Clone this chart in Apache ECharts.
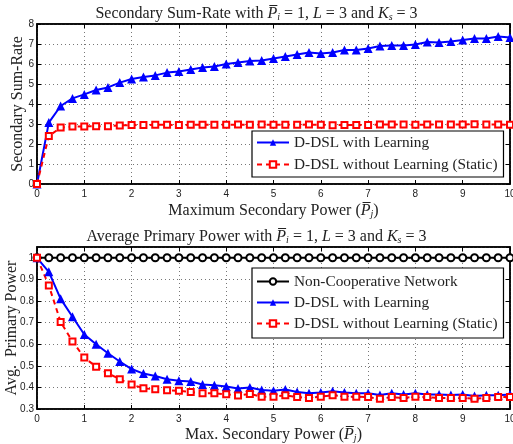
<!DOCTYPE html>
<html>
<head>
<meta charset="utf-8">
<script src="https://cdn.jsdelivr.net/npm/echarts@6/dist/echarts.min.js"></script>
<style>
  html, body { margin: 0; padding: 0; background: #fff; }
  #chart { width: 513px; height: 444px; }
</style>
</head>
<body>
<div id="chart"></div>
<script>
// x values: maximum secondary power
var power = [0, 0.25, 0.5, 0.75, 1, 1.25, 1.5, 1.75, 2, 2.25, 2.5, 2.75, 3, 3.25, 3.5, 3.75,
  4, 4.25, 4.5, 4.75, 5, 5.25, 5.5, 5.75, 6, 6.25, 6.5, 6.75, 7, 7.25, 7.5, 7.75,
  8, 8.25, 8.5, 8.75, 9, 9.25, 9.5, 9.75, 10];

// top chart: secondary sum-rate
var rateLearning = [0, 3.07, 3.9, 4.28, 4.48, 4.7, 4.83, 5.07, 5.25, 5.35, 5.43, 5.57, 5.63, 5.73, 5.82, 5.87,
  6.0, 6.07, 6.15, 6.17, 6.28, 6.37, 6.48, 6.58, 6.53, 6.58, 6.7, 6.7, 6.77, 6.9, 6.93, 6.93,
  6.97, 7.1, 7.08, 7.13, 7.2, 7.27, 7.28, 7.37, 7.32];
var rateStatic = [0, 2.4, 2.82, 2.87, 2.88, 2.89, 2.89, 2.93, 2.95, 2.95, 2.96, 2.96, 2.95, 2.96, 2.96, 2.96,
  2.96, 2.97, 2.96, 2.97, 2.96, 2.96, 2.96, 2.97, 2.96, 2.94, 2.95, 2.95, 2.95, 2.98, 2.97, 2.97,
  2.96, 2.97, 2.97, 2.97, 2.97, 2.99, 2.98, 2.98, 2.96];

// bottom chart: average primary power
var primaryNonCoop = [1, 1, 1, 1, 1, 1, 1, 1, 1, 1, 1, 1, 1, 1, 1, 1,
  1, 1, 1, 1, 1, 1, 1, 1, 1, 1, 1, 1, 1, 1, 1, 1,
  1, 1, 1, 1, 1, 1, 1, 1, 1];
var primaryLearning = [1.0, 0.935, 0.81, 0.727, 0.645, 0.6, 0.558, 0.52, 0.485, 0.464, 0.453, 0.438, 0.431, 0.427, 0.413, 0.41,
  0.404, 0.395, 0.40, 0.388, 0.385, 0.39, 0.379, 0.373, 0.376, 0.382, 0.376, 0.373, 0.373, 0.365, 0.373, 0.367,
  0.373, 0.367, 0.367, 0.365, 0.367, 0.36, 0.364, 0.364, 0.367];
var primaryStatic = [1.0, 0.872, 0.703, 0.613, 0.538, 0.496, 0.465, 0.438, 0.413, 0.396, 0.391, 0.387, 0.384, 0.379, 0.373, 0.373,
  0.368, 0.362, 0.37, 0.357, 0.357, 0.364, 0.355, 0.351, 0.357, 0.364, 0.357, 0.357, 0.355, 0.347, 0.355, 0.351,
  0.357, 0.355, 0.351, 0.351, 0.351, 0.348, 0.351, 0.355, 0.355];

var nameNonCoop = 'Non-Cooperative Network';
var nameLearning = 'D-DSL with Learning';
var nameStatic = 'D-DSL without Learning (Static)';

var serif = 'Liberation Serif';
var sans = 'Liberation Sans';

function pairs(ys) {
  return ys.map(function(y, i) { return [power[i], y]; });
}

var richMath = {
  n: { fontFamily: serif, fontSize: 16, fontWeight: 'normal', color: '#222' },
  it: { fontFamily: serif, fontSize: 16, fontWeight: 'normal', fontStyle: 'italic', color: '#222' },
  sub: { fontFamily: serif, fontSize: 10, fontWeight: 'normal', fontStyle: 'italic', color: '#222', verticalAlign: 'bottom', lineHeight: 10 }
};

function titleText(start) {
  return '{n|' + start + ' with }{it|P\u0305}{sub|i}{n| = 1, }{it|L}{n| = 3 and }{it|K}{sub|s}{n| = 3}';
}

// axes: bottom/left ones carry labels, top/right ones only mirror ticks
function xAx(grid, pos, show) {
  return {
    type: 'value', gridIndex: grid, position: pos, min: 0, max: 10, interval: 1,
    axisLine: { show: true, onZero: false, lineStyle: { color: '#000', width: 1.5 } },
    axisTick: { show: true, inside: true, length: 4, lineStyle: { color: '#000' } },
    axisLabel: { show: show, fontFamily: sans, fontSize: 10, color: '#222', margin: 5 },
    splitLine: { show: show, lineStyle: { type: [1, 3], color: '#777' } }
  };
}
function yAx(grid, pos, show, min, max, step) {
  return {
    type: 'value', gridIndex: grid, position: pos, min: min, max: max, interval: step,
    axisLine: { show: true, onZero: false, lineStyle: { color: '#000', width: 1.5 } },
    axisTick: { show: true, inside: true, length: 4, lineStyle: { color: '#000' } },
    axisLabel: { show: show, fontFamily: sans, fontSize: 10, color: '#222', margin: 3, showMaxLabel: max === 8 },
    splitLine: { show: show, lineStyle: { type: [1, 3], color: '#777' } }
  };
}

var xTop = xAx(0, 'bottom', true);
xTop.name = '{n|Maximum Secondary Power (}{it|P\u0305}{sub|j}{n|)}';
xTop.nameLocation = 'middle';
xTop.nameGap = 19;
xTop.nameTextStyle = { rich: richMath };
var xBot = xAx(1, 'bottom', true);
xBot.name = '{n|Max. Secondary Power (}{it|P\u0305}{sub|j}{n|)}';
xBot.nameLocation = 'middle';
xBot.nameGap = 18;
xBot.nameTextStyle = { rich: richMath };

var yTop = yAx(0, 'left', true, 0, 8, 1);
yTop.name = 'Secondary Sum-Rate';
yTop.nameLocation = 'middle';
yTop.nameGap = 11;
yTop.nameMoveOverlap = false;
yTop.nameTextStyle = { fontFamily: serif, fontSize: 16, color: '#222' };
var yBot = yAx(1, 'left', true, 0.3, 1.05, 0.1);
yBot.name = 'Avg.  Primary Power';
yBot.nameLocation = 'middle';
yBot.nameGap = 17;
yBot.nameMoveOverlap = false;
yBot.nameTextStyle = { fontFamily: serif, fontSize: 16, color: '#222' };

var blue = '#0000ff', red = '#ff0000';

var myChart = echarts.init(document.getElementById('chart'));
var option = {
  animation: false,
  backgroundColor: '#fff',
  title: [
    { text: titleText('Secondary Sum-Rate'), left: 'center', top: 1, textStyle: { rich: richMath } },
    { text: titleText('Average Primary Power'), left: 'center', top: 224, textStyle: { rich: richMath } }
  ],
  grid: [
    { left: 37, right: 3, top: 24, height: 160, outerBoundsMode: 'none', containLabel: false,
      show: true, borderColor: '#000', borderWidth: 1.5, backgroundColor: 'transparent' },
    { left: 37, right: 3, top: 247, height: 162, outerBoundsMode: 'none', containLabel: false,
      show: true, borderColor: '#000', borderWidth: 1.5, backgroundColor: 'transparent' }
  ],
  xAxis: [xTop, xAx(0, 'top', false), xBot, xAx(1, 'top', false)],
  yAxis: [yTop, yAx(0, 'right', false, 0, 8, 1), yBot, yAx(1, 'right', false, 0.3, 1.05, 0.1)],
  legend: [
    {
      data: [nameLearning, nameStatic], orient: 'vertical', left: 252, top: 131,
      backgroundColor: '#fff', borderColor: '#000', borderWidth: 1.2, padding: [4, 6, 5, 4],
      itemWidth: 32, itemHeight: 8, itemGap: 7, selectedMode: false,
      textStyle: { fontFamily: serif, fontSize: 15.3, color: '#222' }
    },
    {
      data: [nameNonCoop, nameLearning, nameStatic], orient: 'vertical', left: 252, top: 268,
      backgroundColor: '#fff', borderColor: '#000', borderWidth: 1.2, padding: [6, 6, 7, 4],
      itemWidth: 32, itemHeight: 8, itemGap: 6, selectedMode: false,
      textStyle: { fontFamily: serif, fontSize: 15.3, color: '#222' }
    }
  ],
  series: [
    {
      name: nameLearning, type: 'line', xAxisIndex: 0, yAxisIndex: 0, data: pairs(rateLearning),
      symbol: 'triangle', symbolSize: 9, color: blue,
      lineStyle: { color: blue, width: 2 }, itemStyle: { color: blue }
    },
    {
      name: nameStatic, type: 'line', xAxisIndex: 0, yAxisIndex: 0, data: pairs(rateStatic),
      symbol: 'emptyRect', symbolSize: 6, color: red,
      lineStyle: { color: red, width: 2, type: [5, 4] }, itemStyle: { color: red, borderColor: red, borderWidth: 2 }
    },
    {
      name: nameNonCoop, type: 'line', xAxisIndex: 2, yAxisIndex: 2, data: pairs(primaryNonCoop),
      symbol: 'emptyCircle', symbolSize: 7, color: '#000',
      lineStyle: { color: '#000', width: 2 }, itemStyle: { color: '#000', borderColor: '#000', borderWidth: 1.5 }
    },
    {
      name: nameLearning, type: 'line', xAxisIndex: 2, yAxisIndex: 2, data: pairs(primaryLearning),
      symbol: 'triangle', symbolSize: 9, color: blue,
      lineStyle: { color: blue, width: 2 }, itemStyle: { color: blue }
    },
    {
      name: nameStatic, type: 'line', xAxisIndex: 2, yAxisIndex: 2, data: pairs(primaryStatic),
      symbol: 'emptyRect', symbolSize: 6, color: red,
      lineStyle: { color: red, width: 2, type: [5, 4] }, itemStyle: { color: red, borderColor: red, borderWidth: 2 }
    }
  ]
};
myChart.setOption(option);
</script>
</body>
</html>
